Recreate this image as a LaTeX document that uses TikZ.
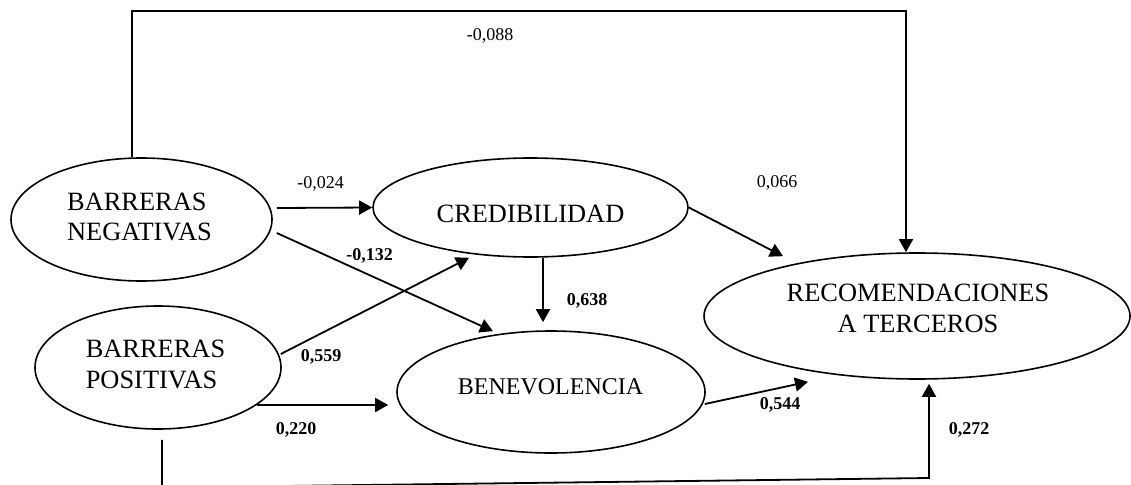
\documentclass[tikz,border=0pt]{standalone}
\usepackage{fontspec}
\setmainfont{Liberation Serif}
\usetikzlibrary{arrows.meta,calc,shapes.geometric}
\begin{document}
\begin{tikzpicture}[x=1pt,y=-1pt,
  ell/.style={draw,line width=1.6pt,ellipse,inner sep=0pt},
  nt/.style={inner sep=0pt,font=\fontsize{26.4}{30.5}\selectfont},
  lab/.style={inner sep=0pt,anchor=base,font=\fontsize{18}{20}\selectfont},
  blab/.style={inner sep=0pt,anchor=base,font=\fontsize{18}{20}\selectfont\bfseries},
  arr/.style={line width=1.8pt,-{Triangle[length=13pt,width=14pt]}}]
\useasboundingbox (0,0) rectangle (1131,484);
\fill[white] (0,0) rectangle (1131,484);
\clip (0,0) rectangle (1131,484);

% ellipses
\node[ell,minimum width=261,minimum height=123] (bn) at (141.5,219.5) {};
\node[ell,minimum width=246,minimum height=123] (bp) at (158,367.5) {};
\node[ell,minimum width=315,minimum height=99] (cred) at (530.5,207.5) {};
\node[ell,minimum width=308,minimum height=122] (ben) at (551,392) {};
\node[ell,minimum width=426,minimum height=126] (rec) at (917,316) {};

% texts
\node[nt,align=left] (bnt) at (139.5,217) {BARRERAS\\NEGATIVAS};
\node[nt,align=left] (bpt) at (155.5,364.5) {BARRERAS\\POSITIVAS};
\node[nt] (credt) at (530.5,214) {CREDIBILIDAD};
\node[nt,font=\fontsize{24}{28}\selectfont] (bent) at (550.5,387) {BENEVOLENCIA};
\node[nt,align=center] (rect) at (918,308.5) {RECOMENDACIONES\\A TERCEROS};

% connectors
\coordinate (t1) at (132,11);
\coordinate (t2) at (906,11);
\draw[arr] (bn.north -| t1) -- (t1) -- (t2) -- (t2 |- rec.north);

\draw[arr] ($(bn.east)+(4,-11.5)$) -- (cred.west);
\draw[arr] ($(bn.east)+(4,13.5)$) -- ($(ben.north)+(-58,1)$);
\draw[arr] ($(bp.east)+(-1,-13.5)$) -- ($(cred.south)+(-61.5,0)$);
\draw[arr] ($(cred.south)+(12.5,0)$) -- ($(ben.north)+(-8,-8)$);
\draw[arr] ($(bp.center)+(99,37.5)$) -- ($(ben.west)+(-8,13)$);
\draw[arr] (cred.east) -- ($(rec.north)+(-134,4)$);
\draw[arr] ($(ben.east)+(-1,12)$) -- ($(rec.south)+(-109,2)$);

\coordinate (b0) at ($(bp.south)+(4,10)$);
\coordinate (b1) at (162,487.5);
\coordinate (b2) at (929,478);
\draw[arr] (b0) -- (b1) -- (b2) -- ($(rec.south)+(12,4)$);

% labels
\node[lab] (l1) at (490,41) {-0,088};
\node[lab] (l2) at (320.5,188) {-0,024};
\node[lab] (l3) at (777,187) {0,066};
\node[blab] (l4) at (369.5,260) {-0,132};
\node[blab] (l5) at (587,305) {0,638};
\node[blab] (l6) at (321,361) {0,559};
\node[blab] (l7) at (296,434) {0,220};
\node[blab] (l8) at (780,409) {0,544};
\node[blab] (l9) at (969,434) {0,272};
\end{tikzpicture}
\end{document}
